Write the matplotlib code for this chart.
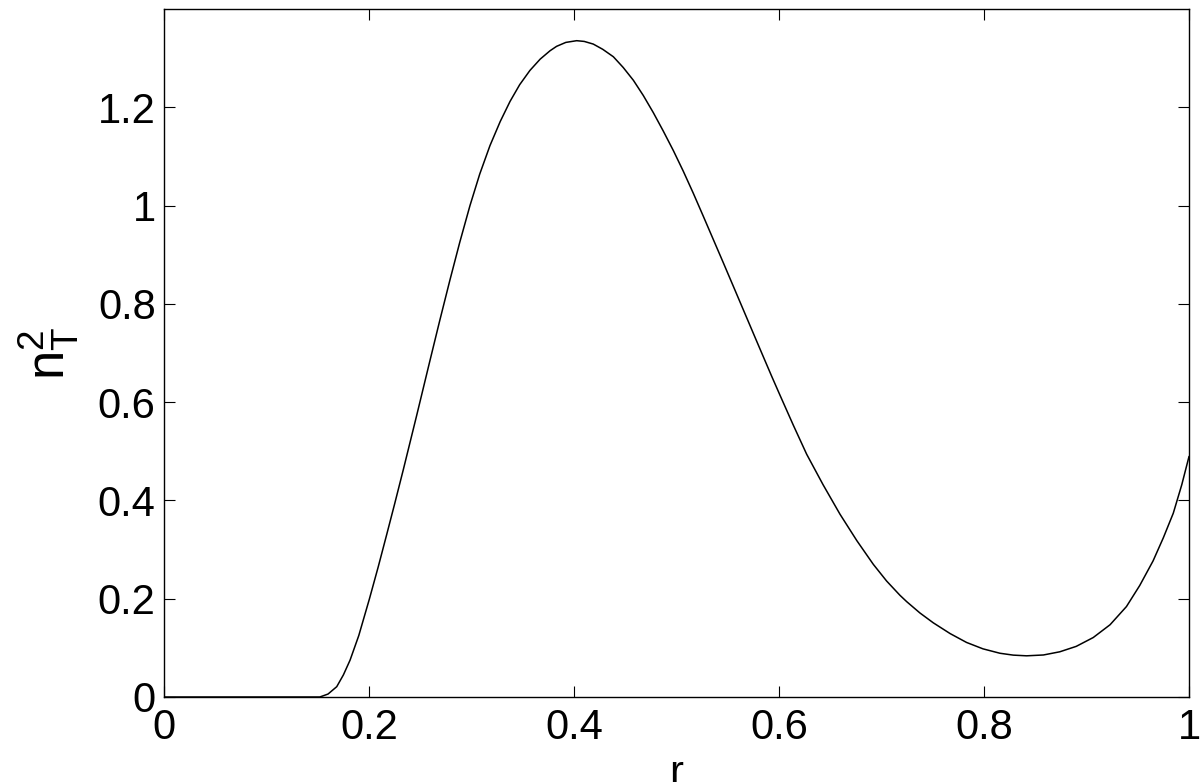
import matplotlib
matplotlib.use('Agg')
import matplotlib.pyplot as plt

# values
r = [0.0, 0.05, 0.10, 0.152, 0.160, 0.1685, 0.175, 0.1815, 0.190, 0.2003,
     0.209, 0.2173, 0.225, 0.2335, 0.240, 0.2465, 0.253, 0.2595, 0.269,
     0.279, 0.2885, 0.2985, 0.308, 0.318, 0.328, 0.3376, 0.347, 0.357,
     0.367, 0.3766, 0.383, 0.392, 0.4026, 0.410, 0.4188, 0.428, 0.4384,
     0.448, 0.4579, 0.4676, 0.4774, 0.487, 0.4969, 0.5066, 0.5164, 0.526,
     0.5359, 0.5456, 0.5554, 0.566, 0.5766, 0.5854, 0.593, 0.601, 0.614,
     0.627, 0.643, 0.6595, 0.676, 0.692, 0.705, 0.718, 0.7246, 0.7375,
     0.7505, 0.767, 0.783, 0.799, 0.8156, 0.8286, 0.8416, 0.858, 0.874,
     0.890, 0.9066, 0.923, 0.939, 0.952, 0.965, 0.975, 0.9847, 0.993, 1.0]
n2 = [0.0, 0.0, 0.0, 0.0, 0.006, 0.021, 0.045, 0.075, 0.125, 0.199,
      0.265, 0.331, 0.393, 0.463, 0.518, 0.573, 0.629, 0.685, 0.766,
      0.849, 0.925, 1.000, 1.064, 1.122, 1.171, 1.212, 1.246, 1.275,
      1.298, 1.315, 1.324, 1.332, 1.3355, 1.334, 1.3286, 1.318, 1.3028,
      1.281, 1.255, 1.224, 1.189, 1.152, 1.112, 1.070, 1.025, 0.979,
      0.931, 0.884, 0.836, 0.784, 0.732, 0.689, 0.652, 0.614, 0.553,
      0.494, 0.432, 0.372, 0.318, 0.270, 0.236, 0.207, 0.194, 0.171,
      0.151, 0.129, 0.111, 0.098, 0.089, 0.0852, 0.0838, 0.0855, 0.092,
      0.103, 0.121, 0.147, 0.184, 0.227, 0.277, 0.324, 0.374, 0.432, 0.489]

xticks = [0, 0.2, 0.4, 0.6, 0.8, 1]
xticklabels = ['0', '0.2', '0.4', '0.6', '0.8', '1']
yticks = [0, 0.2, 0.4, 0.6, 0.8, 1, 1.2]
yticklabels = ['0', '0.2', '0.4', '0.6', '0.8', '1', '1.2']

plt.rcParams['font.family'] = ['Liberation Sans', 'DejaVu Sans']
plt.rcParams['mathtext.fontset'] = 'custom'
plt.rcParams['mathtext.rm'] = 'Liberation Sans'
plt.rcParams['mathtext.it'] = 'Liberation Sans'

fig = plt.figure(figsize=(12, 7.82), dpi=100)
ax = fig.add_axes([0.1367, 0.1087, 0.8541, 0.8798])

ax.plot(r, n2, color='black', linewidth=1.1)

ax.set_xlim(0, 1)
ax.set_ylim(0, 1.4)
ax.set_xticks(xticks)
ax.set_xticklabels(xticklabels)
ax.set_yticks(yticks)
ax.set_yticklabels(yticklabels)
ax.tick_params(direction='in', length=8, width=0.8, labelsize=30,
               top=True, right=True)
ax.tick_params(axis='x', pad=8)
ax.tick_params(axis='y', pad=6)
for s in ax.spines.values():
    s.set_linewidth(1.0)

ax.set_xlabel('r', fontsize=30, labelpad=4)
ax.set_ylabel(r'$\mathregular{n_T^2}$', fontsize=38, labelpad=12)

fig.savefig('out.png', dpi=100)
